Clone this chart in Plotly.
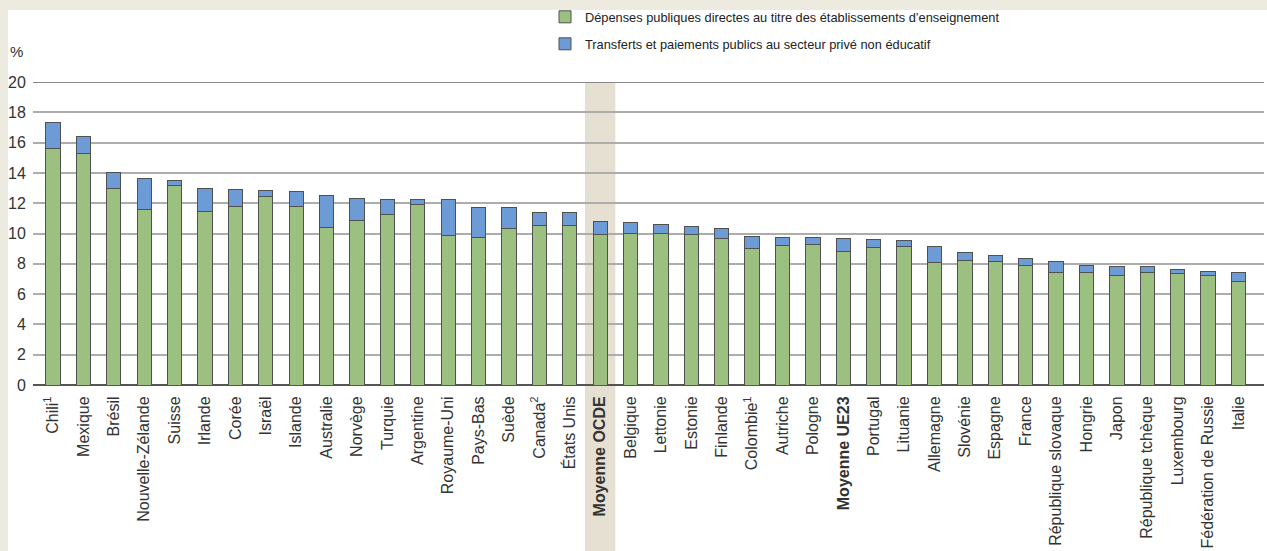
import plotly.graph_objects as go

categories = [
    "Chili<sup>1</sup>", "Mexique", "Brésil", "Nouvelle-Zélande", "Suisse", "Irlande", "Corée",
    "Israël", "Islande", "Australie", "Norvège", "Turquie", "Argentine", "Royaume-Uni",
    "Pays-Bas", "Suède", "Canada<sup>2</sup>", "États Unis", "<b>Moyenne OCDE</b>", "Belgique",
    "Lettonie", "Estonie", "Finlande", "Colombie<sup>1</sup>", "Autriche", "Pologne",
    "<b>Moyenne UE23</b>", "Portugal", "Lituanie", "Allemagne", "Slovénie", "Espagne",
    "France", "République slovaque", "Hongrie", "Japon", "République tchèque",
    "Luxembourg", "Fédération de Russie", "Italie",
]

direct_spending = [
    15.58, 15.27, 12.94, 11.58, 13.16, 11.42, 11.78, 12.43, 11.78, 10.42,
    10.83, 11.27, 11.89, 9.86, 9.73, 10.30, 10.52, 10.50, 9.92, 9.97,
    10.02, 9.95, 9.64, 9.03, 9.18, 9.25, 8.83, 9.05, 9.14, 8.11,
    8.19, 8.13, 7.89, 7.45, 7.45, 7.23, 7.45, 7.34, 7.25, 6.83,
]

transfers = [
    1.78, 1.14, 1.06, 2.02, 0.33, 1.52, 1.12, 0.44, 0.96, 2.08,
    1.50, 0.95, 0.33, 2.36, 1.98, 1.41, 0.88, 0.90, 0.90, 0.75,
    0.55, 0.51, 0.71, 0.77, 0.55, 0.48, 0.81, 0.55, 0.39, 1.01,
    0.58, 0.42, 0.44, 0.68, 0.46, 0.57, 0.35, 0.26, 0.26, 0.57,
]

y_ticks = [0, 2, 4, 6, 8, 10, 12, 14, 16, 18, 20]

legend_names = [
    "Dépenses publiques directes au titre des établissements d’enseignement",
    "Transferts et paiements publics au secteur privé non éducatif",
]

FONT = "Liberation Sans Narrow, Arial Narrow, Liberation Sans, Arial, sans-serif"
GREEN = "#9CC080"
BLUE = "#6C9BD6"
OUTLINE = "#505050"
BEIGE = "#EDEAE0"
BAND = "#E6E0D3"

W, H = 1267, 551
ML, MR, MT, MB = 33, 3, 82, 166
plot_w = W - ML - MR
plot_h = H - MT - MB

fig = go.Figure()
fig.add_trace(go.Bar(
    x=list(range(len(categories))), y=direct_spending, name=legend_names[0],
    marker=dict(color=GREEN, line=dict(color=OUTLINE, width=1)),
    legend="legend",
))
fig.add_trace(go.Bar(
    x=list(range(len(categories))), y=transfers, name=legend_names[1],
    marker=dict(color=BLUE, line=dict(color=OUTLINE, width=1)),
    legend="legend2",
))

# white panel over beige page
fig.add_shape(type="rect", xref="paper", yref="paper",
              x0=(8 - ML) / plot_w, x1=(W + 5 - ML) / plot_w,
              y0=-(MB + 5) / plot_h, y1=1 + (MT - 10) / plot_h,
              fillcolor="white", line=dict(width=0), layer="below")
# OECD average highlight band
oecd_idx = categories.index("<b>Moyenne OCDE</b>")
fig.add_shape(type="rect", xref="x", yref="paper",
              x0=oecd_idx - 0.5, x1=oecd_idx + 0.5,
              y0=-(MB + 5) / plot_h, y1=1,
              fillcolor=BAND, line=dict(width=0), layer="below")

fig.add_annotation(text="%", xref="paper", yref="paper",
                   x=(8 - ML) / plot_w, y=1 + (MT - 52) / plot_h,
                   xanchor="left", yanchor="middle", showarrow=False,
                   font=dict(family=FONT, size=15, color="#333333"))

LEG_X = (545 - ML) / plot_w
fig.update_layout(
    width=W, height=H,
    margin=dict(l=ML, r=MR, t=MT, b=MB, pad=0, autoexpand=False),
    paper_bgcolor=BEIGE, plot_bgcolor="rgba(0,0,0,0)",
    barmode="stack", bargap=0.53,
    font=dict(family=FONT, size=15, color="#333333"),
    xaxis=dict(
        tickmode="array", tickvals=list(range(len(categories))), ticktext=categories,
        tickangle=-90, range=[-0.658, 39.84], showgrid=False, automargin=False,
        ticks="outside", ticklen=4, tickcolor="rgba(0,0,0,0)",
        showline=False, zeroline=False,
        tickfont=dict(family=FONT, size=16, color="#333333"),
    ),
    yaxis=dict(
        range=[0, 20], tickmode="array", tickvals=y_ticks, automargin=False,
        showgrid=True, gridcolor="#ADADAD", gridwidth=1.5,
        zeroline=True, zerolinecolor="#555555", zerolinewidth=2,
        showline=False, ticks="outside", ticklen=3, tickcolor="rgba(0,0,0,0)",
        tickfont=dict(family=FONT, size=16, color="#333333"),
    ),
    legend=dict(x=LEG_X, y=1 + (MT - 2) / plot_h, xanchor="left", yanchor="top",
                bgcolor="rgba(0,0,0,0)", font=dict(family=FONT, size=12.8, color="#222222"),
                itemwidth=30),
    legend2=dict(x=LEG_X, y=1 + (MT - 29) / plot_h, xanchor="left", yanchor="top",
                 bgcolor="rgba(0,0,0,0)", font=dict(family=FONT, size=12.8, color="#222222"),
                 itemwidth=30),
    showlegend=True,
)

# darker top gridline at 20
fig.add_shape(type="line", xref="paper", yref="y", x0=0, x1=1, y0=20, y1=20,
              line=dict(color="#8A8A8A", width=2), layer="below")

fig.write_html("out.html", config={"displayModeBar": False},
               post_script="document.body.style.margin='0';document.body.style.overflow='hidden';")
